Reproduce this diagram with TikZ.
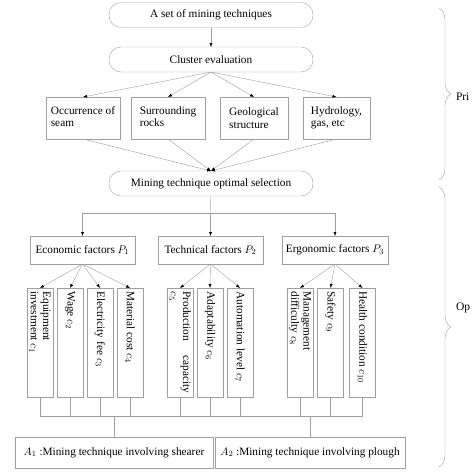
\documentclass[tikz,border=0pt]{standalone}
\usepackage{fontspec}
\setmainfont{Liberation Serif}
\usepackage{tikz}
\usetikzlibrary{arrows.meta,decorations.pathreplacing}

\begin{document}
\begin{tikzpicture}[x=1pt,y=-1pt,
  every node/.style={draw=gray!75, outer sep=0pt, inner sep=2pt, font=\fontsize{11.3}{12.3}\selectfont},
  pill/.style={rounded corners=12pt, minimum width=204pt, minimum height=25pt},
  sqbox/.style={minimum height=42pt, align=left},
  fbox/.style={minimum width=105pt, minimum height=28pt},
  cbox/.style={minimum width=26pt, minimum height=109pt, inner sep=0pt},
  abox/.style={minimum height=31pt},
  link/.style={draw=gray!75, -{Latex[length=4pt,width=3pt,black]}},
  wire/.style={draw=gray!75}]
\useasboundingbox (0,0) rectangle (474,474);

\node[pill] (set) at (211,15) {A set of mining techniques};
\node[pill] (cluster) at (211,59.5) {Cluster evaluation};

\node[sqbox, minimum width=74pt] (seam) at (83,118) {Occurrence of\\seam\vphantom{g}};
\node[sqbox, minimum width=74pt] (rocks) at (168,118) {Surrounding\\rocks\vphantom{g}};
\node[sqbox, minimum width=68pt] (geo) at (254,118) {Geological\\structure};
\node[sqbox, minimum width=67pt] (hydro) at (336.5,118) {Hydrology,\\gas, etc};

\node[pill] (select) at (211,183.5) {Mining technique optimal selection};

\node[fbox] (econ) at (82.5,250) {Economic factors $P_1$};
\node[fbox] (tech) at (210.5,250) {Technical factors $P_2$};
\node[fbox, minimum width=106pt] (ergo) at (335,250) {Ergonomic factors $P_3$};

\node[cbox] (c1) at (40,342.5) {\rotatebox{-90}{\parbox{102pt}{Equipment\\investment $c_1$}}};
\node[cbox] (c2) at (70,342.5) {\rotatebox{-90}{\parbox{102pt}{Wage $c_2$}}};
\node[cbox] (c3) at (100,342.5) {\rotatebox{-90}{\parbox{102pt}{Electricity fee $c_3$}}};
\node[cbox] (c4) at (130,342.5) {\rotatebox{-90}{\parbox{102pt}{Material cost $c_4$}}};
\node[cbox] (c5) at (180,342.5) {\rotatebox{-90}{\parbox{102pt}{Production\hfill capacity\\$c_5$}}};
\node[cbox] (c6) at (210,342.5) {\rotatebox{-90}{\parbox{102pt}{Adaptability $c_6$}}};
\node[cbox] (c7) at (240,342.5) {\rotatebox{-90}{\parbox{102pt}{Automation level $c_7$}}};
\node[cbox] (c8) at (300,342.5) {\rotatebox{-90}{\parbox{102pt}{Management\\difficulty $c_8$}}};
\node[cbox] (c9) at (330.5,342.5) {\rotatebox{-90}{\parbox{102pt}{Safety $c_9$}}};
\node[cbox] (c10) at (362.5,342.5) {\rotatebox{-90}{\parbox{102pt}{Health condition $c_{10}$}}};

\node[abox, minimum width=198pt] (shearer) at (114,452.5) {$A_1$ :Mining technique involving shearer};
\node[abox, minimum width=190pt] (plough) at (310,452.5) {$A_2$ :Mining technique involving plough};

\draw[link] (set) -- (cluster);
\draw[link] (cluster.south) -- (seam.north);
\draw[link] (cluster.south) -- (rocks.north);
\draw[link] (cluster.south) -- (geo.north);
\draw[link] (cluster.south) -- (hydro.north);
\draw[link] (seam.south) -- (select.north);
\draw[link] (rocks.south) -- (select.north);
\draw[link] (geo.south) -- (select.north);
\draw[link] (hydro.south) -- (select.north);

\coordinate (split) at (210.5,213);
\draw[wire] (select) -- (split);
\draw[link] (split) -| (econ.north);
\draw[link] (split) -- (tech.north);
\draw[link] (split) -| (ergo.north);

\draw[link] (econ.south) -- (c1.north);
\draw[link] (econ.south) -- (c2.north);
\draw[link] (econ.south) -- (c3.north);
\draw[link] (econ.south) -- (c4.north);
\draw[link] (tech.south) -- (c5.north);
\draw[link] (tech.south) -- (c6.north);
\draw[link] (tech.south) -- (c7.north);
\draw[link] (ergo.south) -- (c8.north);
\draw[link] (ergo.south) -- (c9.north);
\draw[link] (ergo.south) -- (c10.north);

\coordinate (bus) at (0,416);
\foreach \c in {c1,c2,c3,c4,c5,c6,c7,c8,c9,c10}
  \draw[wire] (\c.south) -- (\c.south |- bus);
\draw[wire] (c1.south |- bus) -- (c10.south |- bus);
\draw[wire] (shearer.north |- bus) -- (shearer.north);
\draw[wire] (plough.north |- bus) -- (plough.north);

\coordinate (braceA) at (439,8);
\coordinate (braceB) at (439,180);
\coordinate (braceC) at (439,187);
\coordinate (braceD) at (439,467);
\draw[gray!75, decorate, decoration={brace, amplitude=12pt}] (braceA) -- (braceB);
\draw[gray!75, decorate, decoration={brace, amplitude=12pt}] (braceC) -- (braceD);
\node[draw=none, anchor=west, font=\fontsize{11.5}{13}\selectfont] (pri) at (454,97) {Pri};
\node[draw=none, anchor=west, font=\fontsize{11.5}{13}\selectfont] (opt) at (454,308) {Op};
\end{tikzpicture}
\end{document}
